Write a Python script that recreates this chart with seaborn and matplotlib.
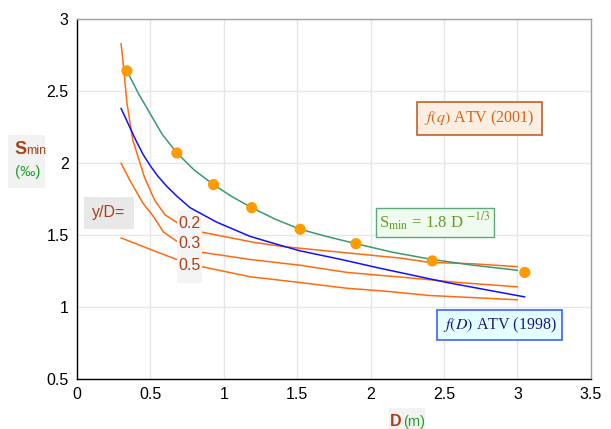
import matplotlib.pyplot as plt
import matplotlib.patches as mpatches
from matplotlib.ticker import MultipleLocator
import pandas as pd
import seaborn as sns

# S_min = 1.8 D^-1/3 : marked points
pts_d = [0.34, 0.68, 0.93, 1.19, 1.52, 1.90, 2.42, 3.05]
pts_s = [2.64, 2.07, 1.85, 1.69, 1.54, 1.44, 1.32, 1.24]

# green curve through them
green_d = [0.34, 0.42, 0.50, 0.58, 0.68, 0.80, 0.93, 1.05, 1.19, 1.35, 1.52, 1.70, 1.90, 2.15, 2.42, 2.70, 3.00]
green_s = [2.64, 2.48, 2.34, 2.20, 2.07, 1.95, 1.85, 1.77, 1.69, 1.61, 1.54, 1.49, 1.44, 1.38, 1.33, 1.29, 1.255]

# f(D) ATV (1998)
blue_d = [0.30, 0.35, 0.40, 0.45, 0.50, 0.55, 0.61, 0.68, 0.77, 0.86, 0.95, 1.18, 1.38, 1.52, 1.80, 2.06, 2.52, 3.05]
blue_s = [2.38, 2.27, 2.16, 2.06, 1.98, 1.91, 1.84, 1.77, 1.69, 1.64, 1.59, 1.49, 1.43, 1.39, 1.33, 1.27, 1.17, 1.07]

# f(q) ATV (2001), y/D = 0.2, 0.3, 0.5
q02_d = [0.30, 0.31, 0.34, 0.38, 0.46, 0.53, 0.60, 0.69, 0.85, 1.00, 1.20, 1.40, 1.60, 1.90, 2.20, 2.40, 2.70, 3.00]
q02_s = [2.83, 2.74, 2.42, 2.16, 1.90, 1.74, 1.64, 1.58, 1.52, 1.49, 1.45, 1.42, 1.40, 1.37, 1.34, 1.31, 1.30, 1.28]
q03_d = [0.30, 0.36, 0.45, 0.52, 0.59, 0.69, 0.85, 1.18, 1.52, 1.84, 2.29, 2.60, 3.00]
q03_s = [2.00, 1.88, 1.72, 1.63, 1.52, 1.45, 1.38, 1.33, 1.29, 1.24, 1.20, 1.17, 1.14]
q05_d = [0.30, 0.40, 0.50, 0.68, 0.85, 1.18, 1.52, 1.84, 2.10, 2.40, 2.70, 3.00]
q05_s = [1.48, 1.44, 1.40, 1.33, 1.28, 1.21, 1.17, 1.13, 1.11, 1.08, 1.065, 1.05]

yd_labels = ['0.2', '0.3', '0.5']

sns.set_style('white')
plt.rcParams['font.family'] = ['Liberation Sans', 'DejaVu Sans']
plt.rcParams['mathtext.fontset'] = 'stix'

fig = plt.figure(figsize=(6.11, 4.29), dpi=100)
ax = fig.add_axes([0.126, 0.1166, 0.841, 0.839])

orange = '#ff6a10'
for d, s in [(q02_d, q02_s), (q03_d, q03_s), (q05_d, q05_s)]:
    sns.lineplot(x=d, y=s, ax=ax, color=orange, lw=1.1, sort=False, zorder=2)
sns.lineplot(x=blue_d, y=blue_s, ax=ax, color='#1010ff', lw=1.1, sort=False, zorder=4)
sns.lineplot(x=green_d, y=green_s, ax=ax, color='#3a9a6a', lw=1.1, sort=False, zorder=4)
sns.scatterplot(x=pts_d, y=pts_s, ax=ax, color='#ff9a00', s=65, edgecolor='none', zorder=5)

ax.set_xlim(0, 3.5)
ax.set_ylim(0.5, 3)
ax.xaxis.set_minor_locator(MultipleLocator(0.1))
ax.yaxis.set_minor_locator(MultipleLocator(0.1))
ax.set_xticks([0, 0.5, 1, 1.5, 2, 2.5, 3, 3.5])
ax.set_xticklabels(['0', '0.5', '1', '1.5', '2', '2.5', '3', '3.5'])
ax.set_yticks([0.5, 1, 1.5, 2, 2.5, 3])
ax.set_yticklabels(['0.5', '1', '1.5', '2', '2.5', '3'])
ax.tick_params(which='both', direction='in', length=4, width=0.8, color='black',
               labelsize=11.5, labelcolor='black', pad=6)
ax.tick_params(which='minor', length=3)
ax.grid(True, which='major', color='#e6e6e6', lw=1)
ax.set_axisbelow(True)
for side in ['left', 'bottom']:
    ax.spines[side].set_color('black')
    ax.spines[side].set_linewidth(1)
for side in ['top', 'right']:
    ax.spines[side].set_color('#a0a0a0')
    ax.spines[side].set_linewidth(1)
ax.set_xlabel('')
ax.set_ylabel('')

brown = '#a5421a'
# box with y/D values, covering the orange lines
ax.add_patch(mpatches.Rectangle((0.68, 1.167), 0.17, 0.507, facecolor='#f4f4f4',
                                edgecolor='none', zorder=3))
for lab, yy in zip(yd_labels, [1.583, 1.444, 1.29]):
    ax.text(0.765, yy, lab, color=brown, fontsize=11.5, ha='center', va='center', zorder=6)

ax.text(0.218, 1.653, 'y/D=', color=brown, fontsize=11.5, ha='center', va='center', zorder=6,
        bbox=dict(boxstyle='square,pad=0.55', facecolor='#e8e8e8', edgecolor='none'))

ax.text(2.44, 1.59, r'S$_{\mathrm{min}}$ = 1.8 D $^{\mathrm{-1/3}}$', color='#6a9a2a',
        fontsize=12, family='Liberation Serif', ha='center', va='center', zorder=6,
        bbox=dict(boxstyle='square,pad=0.2', facecolor='#eefbee', edgecolor='#5aaa7a', lw=1))

ax.text(2.74, 2.31, r'$\it{f(q)}$ ATV (2001)', color='#d0661a', fontsize=11.5,
        family='Liberation Serif', ha='center', va='center', zorder=6,
        bbox=dict(boxstyle='square,pad=0.45', facecolor='#fdeee2', edgecolor='#c0602a', lw=1.2))

ax.text(2.88, 0.875, r'$\it{f(D)}$ ATV (1998)', color='#1a1a80', fontsize=11.5,
        family='Liberation Serif', ha='center', va='center', zorder=6,
        bbox=dict(boxstyle='square,pad=0.35', facecolor='#e4ffff', edgecolor='#4060ff', lw=1.2))

# y-axis label
fig.patches.append(mpatches.Rectangle((8 / 611, 1 - 188 / 429), 37 / 611, 53 / 429,
                                      transform=fig.transFigure, facecolor='#f2f2f2',
                                      edgecolor='none'))
fig.text(14 / 611, 1 - 149 / 429, 'S', color=brown, fontsize=13, fontweight='bold',
         ha='left', va='center')
fig.text(26 / 611, 1 - 151 / 429, 'min', color=brown, fontsize=9, ha='left', va='center')
fig.text(28 / 611, 1 - 172 / 429, '(‰)', color='#22a02a', fontsize=11, ha='center', va='center')

# x-axis label
fig.patches.append(mpatches.Rectangle((389 / 611, 0), 36 / 611, 21 / 429,
                                      transform=fig.transFigure, facecolor='#f2f2f2',
                                      edgecolor='none'))
fig.text(390 / 611, 1 - 422 / 429, 'D', color=brown, fontsize=11.5, fontweight='bold',
         ha='left', va='center')
fig.text(403 / 611, 1 - 422 / 429, '(m)', color='#22a02a', fontsize=10.5, ha='left', va='center')

fig.savefig('out.png', dpi=100)
